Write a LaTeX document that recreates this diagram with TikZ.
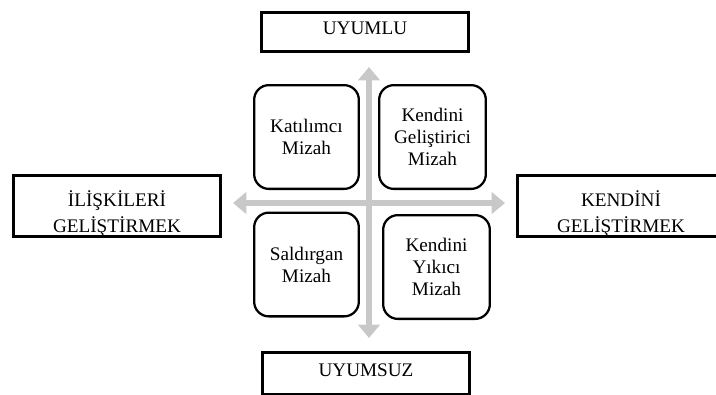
\documentclass[tikz,border=0pt]{standalone}
\usepackage{fontspec}
\setmainfont{Liberation Serif}
\usetikzlibrary{positioning, arrows.meta}
\definecolor{axisgray}{RGB}{200,200,200}

\tikzset{
    outerbox/.style={rectangle, draw, line width=2pt, fill=white, align=center, inner sep=0pt,
        minimum width=155.5pt, font=\fontsize{14.4}{19.5}\selectfont},
    humorbox/.style={rectangle, draw, line width=1.7pt, rounded corners=11pt, fill=white, align=center,
        inner sep=0pt, minimum height=77.8pt, font=\fontsize{14.4}{16.5}\selectfont},
    axisarrow/.style={{Triangle[width=16pt, length=10pt]}-{Triangle[width=16pt, length=10pt]},
        line width=4.5pt, draw=axisgray}
}

\begin{document}
\begin{tikzpicture}[x=0.75pt, y=-0.75pt]
                    \useasboundingbox (0, 0) rectangle (716, 394);
                    \clip (0, 0) rectangle (716, 394);

                    \coordinate (top) at (369, 67);
                    \coordinate (bottom) at (369, 338);
                    \coordinate (left) at (233, 203);
                    \coordinate (right) at (505, 203);

                    \draw[axisarrow] (bottom) -- (top);
                    \draw[axisarrow] (left) -- (right);

                    \node[outerbox, minimum height=29.5pt] (uyumlu) at (365, 32) {UYUMLU\rule[-5pt]{0pt}{5pt}};
                    \node[outerbox, minimum height=31.75pt] (uyumsuz) at (366, 373.5) {UYUMSUZ\rule[-5pt]{0pt}{5pt}};
                    \node[outerbox, minimum height=46pt] (iliski) at (117, 206) {\rule{0pt}{23.5pt}İLİŞKİLERİ\\GELİŞTİRMEK};
                    \node[outerbox, minimum height=46pt] (kendini) at (621, 206) {\rule{0pt}{23.5pt}KENDİNİ\\GELİŞTİRMEK};

                    \node[humorbox, minimum width=78.5pt] (katilimci) at (306.5, 137) {Katılımcı\\Mizah};
                    \node[humorbox, minimum width=80pt] (gelistirici) at (432.5, 137) {Kendini\\Geliştirici\\Mizah};
                    \node[humorbox, minimum width=78.5pt] (saldirgan) at (306.5, 264.5) {Saldırgan\\Mizah};
                    \node[humorbox, minimum width=80pt] (yikici) at (436.5, 267) {Kendini\\Yıkıcı\\Mizah};
                \end{tikzpicture}
\end{document}
